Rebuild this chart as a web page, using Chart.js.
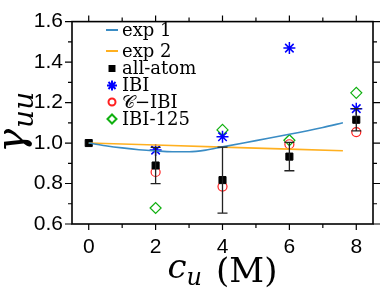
<!DOCTYPE html>
<html lang="en">
<head>
    <meta charset="UTF-8">
    <title>gamma_uu vs c_u</title>
    <script src="https://cdn.jsdelivr.net/npm/chart.js"></script>
    <style>
        body { margin: 0; background: #fff; }
        #wrap { width: 382px; height: 290px; }
    </style>
</head>
<body>
    <div id="wrap"><canvas id="gammaChart"></canvas></div>

    <script>
        // urea concentration (M)
        const conc = [0, 2, 4, 6, 8];
        const allAtom = [1.0, 0.889, 0.817, 0.933, 1.115];
        const allAtomErr = [0, 0.09, 0.163, 0.07, 0.055];
        const ibi = [null, 0.965, 1.031, 1.469, 1.17];
        const cIbi = [null, 0.857, 0.785, 0.994, 1.054];
        const ibi125 = [null, 0.679, 1.065, 1.014, 1.248];

        // experimental curves
        const exp1X = [0, 0.5, 1, 1.5, 2, 2.5, 3, 3.5, 4, 5, 6, 7, 7.6];
        const exp1Y = [1.0, 0.987, 0.976, 0.967, 0.961, 0.957, 0.957, 0.965, 0.981, 1.012, 1.043, 1.077, 1.10];
        const exp2X = [0, 2, 4, 6, 7.6];
        const exp2Y = [1.0, 0.99, 0.98, 0.97, 0.962];

        const xTicks = [0, 2, 4, 6, 8];
        const yTicks = [0.6, 0.8, 1.0, 1.2, 1.4, 1.6];

        function pts(xs, ys) {
            return xs.map((x, i) => ({ x: x, y: ys[i] })).filter(p => p.y !== null);
        }

        const tickFont = { family: 'Liberation Sans, Arial, sans-serif', size: 21 };

        // outward ticks on all four sides, frame, error bars, legend, titles
        const decorPlugin = {
            id: 'decor',
            afterDatasetsDraw(chart) {
                const ctx = chart.ctx;
                const xs = chart.scales.x, ys = chart.scales.y;
                ctx.save();
                ctx.strokeStyle = '#222';
                ctx.lineWidth = 1.3;
                conc.forEach((c, i) => {
                    if (!allAtomErr[i]) return;
                    const px = xs.getPixelForValue(c);
                    const top = ys.getPixelForValue(allAtom[i] + allAtomErr[i]);
                    const bot = ys.getPixelForValue(allAtom[i] - allAtomErr[i]);
                    ctx.beginPath();
                    ctx.moveTo(px, top); ctx.lineTo(px, bot);
                    ctx.moveTo(px - 5, top); ctx.lineTo(px + 5, top);
                    ctx.moveTo(px - 5, bot); ctx.lineTo(px + 5, bot);
                    ctx.stroke();
                });
                ctx.restore();
            },
            afterDraw(chart) {
                const ctx = chart.ctx;
                const xs = chart.scales.x, ys = chart.scales.y;
                const a = chart.chartArea;
                ctx.save();
                ctx.strokeStyle = '#000';
                ctx.lineWidth = 1.2;
                ctx.beginPath();
                for (let v = 0; v <= 8; v += 1) {
                    const px = xs.getPixelForValue(v);
                    const len = v % 2 === 0 ? 6 : 4;
                    ctx.moveTo(px, a.bottom); ctx.lineTo(px, a.bottom + len);
                    ctx.moveTo(px, a.top); ctx.lineTo(px, a.top - len);
                }
                for (let k = 6; k <= 16; k++) {
                    const py = ys.getPixelForValue(k / 10);
                    const len = k % 2 === 0 ? 7 : 4;
                    ctx.moveTo(a.left, py); ctx.lineTo(a.left - len, py);
                    ctx.moveTo(a.right, py); ctx.lineTo(a.right + len, py);
                }
                ctx.stroke();
                ctx.lineWidth = 1.6;
                ctx.strokeRect(a.left, a.top, a.right - a.left, a.bottom - a.top);

                // legend
                const items = chart.data.datasets;
                const lx = 112, tx = 122;
                const rows = [30, 51, 68.5, 85.5, 102, 119];
                ctx.textBaseline = 'middle';
                ctx.font = '18px "DejaVu Serif", serif';
                items.forEach((ds, i) => {
                    const y = rows[i];
                    if (ds.showLine) {
                        ctx.strokeStyle = ds.borderColor;
                        ctx.lineWidth = 2;
                        ctx.beginPath();
                        ctx.moveTo(lx - 6, y); ctx.lineTo(lx + 6, y);
                        ctx.stroke();
                    } else {
                        ctx.strokeStyle = ds.borderColor;
                        ctx.fillStyle = ds.backgroundColor;
                        Chart.helpers.drawPoint(ctx, {
                            pointStyle: ds.pointStyle,
                            radius: ds.legendRadius,
                            rotation: 0,
                            borderWidth: ds.borderWidth
                        }, lx, y);
                    }
                    ctx.fillStyle = '#000';
                    ctx.fillText(ds.label, tx, y + 1);
                });

                // x title: c_u (M)
                ctx.fillStyle = '#000';
                ctx.textBaseline = 'alphabetic';
                const cx = (a.left + a.right) / 2;
                const fMain = 'italic 34px "DejaVu Serif", serif';
                const fSub = 'italic 24px "DejaVu Serif", serif';
                const fRom = '34px "DejaVu Serif", serif';
                ctx.font = fMain; const wc = ctx.measureText('c').width;
                ctx.font = fSub; const wu = ctx.measureText('u').width;
                ctx.font = fRom; const wm = ctx.measureText('(M)').width;
                const gap = 14;
                const x0 = cx - (wc + wu + gap + wm) / 2;
                const base = 282;
                ctx.font = fMain; ctx.fillText('c', x0, base - 4);
                ctx.font = fSub; ctx.fillText('u', x0 + wc, base + 3);
                ctx.font = fRom; ctx.fillText('(M)', x0 + wc + wu + gap, base);

                // y title: gamma_uu, rotated
                ctx.translate(24, (a.top + a.bottom) / 2);
                ctx.rotate(-Math.PI / 2);
                const fG = 'italic 40px "DejaVu Serif", serif';
                const fS = 'italic 28px "DejaVu Serif", serif';
                ctx.font = fG; const wg = ctx.measureText('γ').width;
                ctx.font = fS; const ws = ctx.measureText('uu').width;
                const t0 = -(wg + ws) / 2;
                ctx.font = fG; ctx.fillText('γ', t0, 0);
                ctx.font = fS; ctx.fillText('uu', t0 + wg + 1, 9);
                ctx.restore();
            }
        };

        new Chart(document.getElementById('gammaChart'), {
            type: 'scatter',
            data: {
                datasets: [{
                    label: 'exp 1',
                    data: pts(exp1X, exp1Y),
                    showLine: true,
                    borderColor: '#3a8cc4',
                    borderWidth: 1.6,
                    pointRadius: 0,
                    cubicInterpolationMode: 'monotone'
                }, {
                    label: 'exp 2',
                    data: pts(exp2X, exp2Y),
                    showLine: true,
                    borderColor: '#ffb020',
                    borderWidth: 1.6,
                    pointRadius: 0
                }, {
                    label: 'all-atom',
                    data: pts(conc, allAtom),
                    pointStyle: 'rect',
                    pointRadius: 5,
                    legendRadius: 3.5,
                    backgroundColor: '#000',
                    borderColor: '#000',
                    borderWidth: 1
                }, {
                    label: 'IBI',
                    data: pts(conc, ibi),
                    pointStyle: 'star',
                    pointRadius: 6,
                    legendRadius: 5,
                    backgroundColor: '#0000ff',
                    borderColor: '#0000ff',
                    borderWidth: 1.5
                }, {
                    label: '𝒞−IBI',
                    data: pts(conc, cIbi),
                    pointStyle: 'circle',
                    pointRadius: 4.5,
                    legendRadius: 3.5,
                    backgroundColor: 'rgba(0,0,0,0)',
                    borderColor: '#ff2020',
                    borderWidth: 1.2
                }, {
                    label: 'IBI-125',
                    data: pts(conc, ibi125),
                    pointStyle: 'rectRot',
                    pointRadius: 5.5,
                    legendRadius: 4.5,
                    backgroundColor: 'rgba(0,0,0,0)',
                    borderColor: '#10b010',
                    borderWidth: 1.2
                }]
            },
            options: {
                responsive: true,
                maintainAspectRatio: false,
                animation: false,
                layout: { padding: { top: 7, right: 9, left: 0, bottom: 0 } },
                plugins: { legend: { display: false }, tooltip: { enabled: false } },
                scales: {
                    x: {
                        type: 'linear',
                        min: -0.5, max: 8.5,
                        afterBuildTicks(scale) { scale.ticks = xTicks.map(v => ({ value: v })); },
                        afterFit(scale) { scale.height = 66; },
                        grid: { display: false, drawTicks: false },
                        border: { display: false },
                        ticks: { color: '#000', font: tickFont, padding: 11, maxRotation: 0 }
                    },
                    y: {
                        min: 0.6, max: 1.6,
                        afterBuildTicks(scale) { scale.ticks = yTicks.map(v => ({ value: v })); },
                        afterFit(scale) { scale.width = 72; },
                        grid: { display: false, drawTicks: false },
                        border: { display: false },
                        ticks: {
                            color: '#000', font: tickFont, padding: 9,
                            callback: v => v.toFixed(1)
                        }
                    }
                }
            },
            plugins: [decorPlugin]
        });
    </script>
</body>
</html>
